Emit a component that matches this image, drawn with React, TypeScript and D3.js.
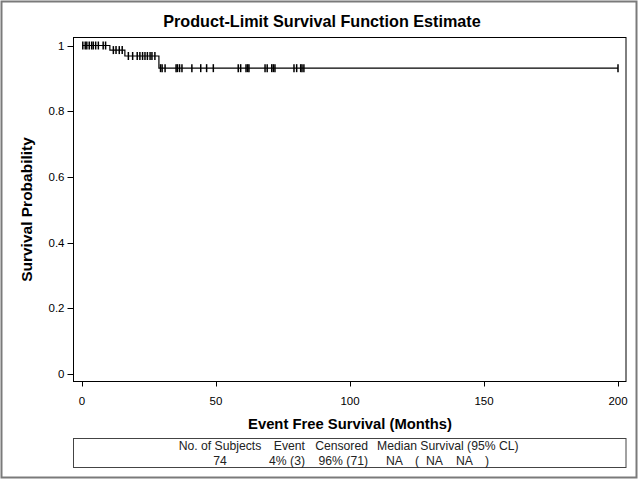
import React from 'react';
import * as d3 from 'd3';

// Kaplan-Meier steps (event times in months, survival after the drop)
const eventTimes = [10.4, 16.0, 28.7];
const survivalAfter = [0.986, 0.968, 0.931];

// censored observations (months)
const censorTimes = [
  0.3, 1.2, 1.8, 2.7, 3.6, 4.2, 5.1, 6.1, 7.9, 8.8,
  11.7, 12.7, 13.9, 15.0,
  17.3, 18.9, 20.6, 21.6, 22.6, 23.5, 24.4, 25.4, 26.1, 27.2,
  29.3, 29.9, 31.0, 35.1, 35.6, 36.4, 37.3, 41.0, 44.3, 46.5, 49.0,
  58.3, 59.2, 61.2, 61.8, 62.3, 68.3, 69.1, 70.8, 71.4, 72.0,
  79.1, 80.1, 81.6, 82.1, 82.8, 200,
];

const xTicks = [0, 50, 100, 150, 200];
const yTicks = [0, 0.2, 0.4, 0.6, 0.8, 1];

const tableHeaders = ['No. of Subjects', 'Event', 'Censored', 'Median Survival (95% CL)'];
const tableValues = ['74', '4% (3)', '96% (71)'];
const medianValues = ['NA', '(', 'NA', 'NA', ')'];

const W = 640;
const H = 480;
const FONT = '"Liberation Sans", Arial, Helvetica, sans-serif';

const survAt = (t: number) => {
  let s = 1;
  eventTimes.forEach((e, i) => {
    if (t >= e) s = survivalAfter[i];
  });
  return s;
};

const App: React.FC = () => {
  const x = d3.scaleLinear().domain([0, 200]).range([82, 618]);
  const y = d3.scaleLinear().domain([0, 1]).range([374, 45.5]);

  const frame = { left: 73.5, right: 626, top: 37.5, bottom: 381.5 };

  const pts: [number, number][] = [[0, 1]];
  eventTimes.forEach((e, i) => pts.push([e, survivalAfter[i]]));
  pts.push([200, survivalAfter[survivalAfter.length - 1]]);

  const line = d3.line<[number, number]>()
    .x(d => x(d[0]))
    .y(d => y(d[1]))
    .curve(d3.curveStepAfter);

  const fmt = d3.format('~g');

  return (
    <svg width={W} height={H} style={{ position: 'absolute', left: 0, top: 0, background: '#fff' }} fontFamily={FONT}>
      <rect x={0} y={0} width={W} height={H} fill="#fff" />
      <rect x={1.5} y={1.5} width={635} height={476} fill="none" stroke="#7a7a7a" strokeWidth={2} />

      <text x={322} y={27} textAnchor="middle" fontSize={16.2} fontWeight="bold" fill="#000">
        Product-Limit Survival Function Estimate
      </text>

      {/* plot frame */}
      <rect x={frame.left} y={frame.top} width={frame.right - frame.left} height={frame.bottom - frame.top}
        fill="none" stroke="#000" strokeWidth={1} />

      {/* y axis */}
      {yTicks.map(t => (
        <g key={'y' + t}>
          <line x1={frame.left - 6} x2={frame.left} y1={Math.round(y(t)) + 0.5} y2={Math.round(y(t)) + 0.5} stroke="#000" />
          <text x={frame.left - 9} y={y(t) + 4} textAnchor="end" fontSize={11.5} fill="#000">{fmt(t)}</text>
        </g>
      ))}
      <text transform={`translate(32,${(frame.top + frame.bottom) / 2}) rotate(-90)`} textAnchor="middle"
        fontSize={15.5} fontWeight="bold" fill="#000">Survival Probability</text>

      {/* x axis */}
      {xTicks.map(t => (
        <g key={'x' + t}>
          <line x1={Math.round(x(t)) + 0.5} x2={Math.round(x(t)) + 0.5} y1={frame.bottom} y2={frame.bottom + 5} stroke="#000" />
          <text x={x(t)} y={405} textAnchor="middle" fontSize={11.5} fill="#000">{t}</text>
        </g>
      ))}
      <text x={350} y={429} textAnchor="middle" fontSize={14.8} fontWeight="bold" fill="#000">
        Event Free Survival (Months)
      </text>

      {/* survival curve */}
      <path d={line(pts) || ''} fill="none" stroke="#000" strokeWidth={1.2} />
      {censorTimes.map((c, i) => (
        <line key={'c' + i} x1={x(c)} x2={x(c)} y1={y(survAt(c)) - 4} y2={y(survAt(c)) + 4} stroke="#000" strokeWidth={1.5} />
      ))}

      {/* summary table */}
      <rect x={73.5} y={438.5} width={552.5} height={29} fill="none" stroke="#444" strokeWidth={1} />
      <g fontSize={12.2} fill="#222">
        <text x={220} y={450} textAnchor="middle">{tableHeaders[0]}</text>
        <text x={305} y={450} textAnchor="end">{tableHeaders[1]}</text>
        <text x={368} y={450} textAnchor="end">{tableHeaders[2]}</text>
        <text x={377} y={450} textAnchor="start">{tableHeaders[3]}</text>

        <text x={220} y={465} textAnchor="middle">{tableValues[0]}</text>
        <text x={305} y={465} textAnchor="end">{tableValues[1]}</text>
        <text x={368} y={465} textAnchor="end">{tableValues[2]}</text>
        {medianValues.map((v, i) => (
          <text key={'m' + i} x={[386, 415, 426, 456, 485][i]} y={465}>{v}</text>
        ))}
      </g>
    </svg>
  );
};

export default App;
